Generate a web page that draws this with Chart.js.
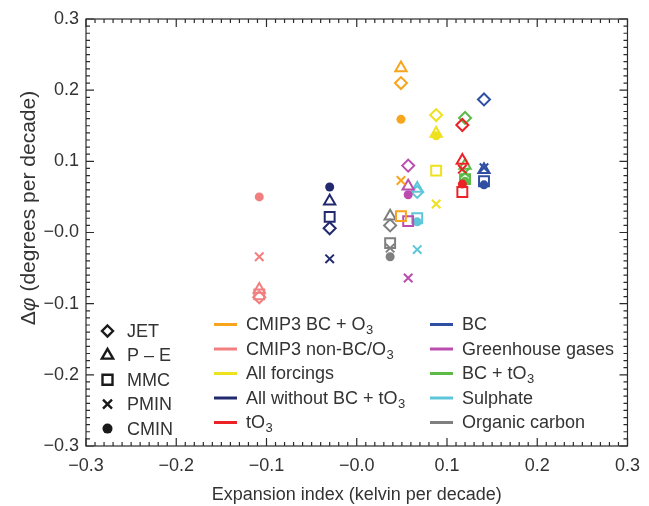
<!DOCTYPE html>
<html><head><meta charset="utf-8">
<script src="https://cdn.jsdelivr.net/npm/chart.js@4"></script>
<style>html,body{margin:0;padding:0;background:#fff}</style>
</head><body>
<canvas id="c" width="649" height="506"></canvas>
<script>
// ---- data ----
const indicators = ['JET', 'P – E', 'MMC', 'PMIN', 'CMIN'];
const forcings = ['CMIP3 BC + O3', 'CMIP3 non-BC/O3', 'All forcings', 'All without BC + tO3', 'tO3',
                  'BC', 'Greenhouse gases', 'BC + tO3', 'Sulphate', 'Organic carbon'];
const colors = ['#F8A41C', '#F17F7F', '#EEE11E', '#22296F', '#EC2227',
                '#2F4FA2', '#BA4DAD', '#5CBA47', '#5FC6DA', '#7F7F7F'];
// expansion index (kelvin per decade) per forcing
const expansionIndex = [0.049, -0.108, 0.088, -0.030, 0.117, 0.141, 0.057, 0.120, 0.067, 0.037];
// Δφ (degrees per decade) for JET, P–E, MMC, PMIN, CMIN
const cmip3BcO3     = [0.210, 0.231, 0.023, 0.073, 0.159];
const cmip3NonBcO3  = [-0.091, -0.080, -0.087, -0.034, 0.050];
const allForcings   = [0.165, 0.139, 0.087, 0.040, 0.136];
const allWithoutBc  = [0.006, 0.044, 0.022, -0.037, 0.064];
const tO3           = [0.151, 0.101, 0.057, 0.089, 0.068];
const bc            = [0.187, 0.088, 0.072, 0.091, 0.067];
const ghg           = [0.094, 0.065, 0.016, -0.064, 0.053];
const bcTO3         = [0.161, 0.094, 0.075, 0.084, 0.072];
const sulphate      = [0.057, 0.062, 0.020, -0.024, 0.015];
const organicCarbon = [0.010, 0.023, -0.015, -0.022, -0.034];
const seriesValues = [cmip3BcO3, cmip3NonBcO3, allForcings, allWithoutBc, tO3,
                      bc, ghg, bcTO3, sulphate, organicCarbon];
const axisTicks = [-0.3, -0.2, -0.1, 0.0, 0.1, 0.2, 0.3];

// ---- styles ----
const markerStyles = ['rectRot', 'triangle', 'rect', 'crossRot', 'circle'];
const markerRadius = [6, 6.5, 7, 6, 4.5];
const FONT = '"Liberation Sans", Arial, Helvetica, sans-serif';
const TEXT = '#333333';

function fmtTick(v) {
  const r = Math.round(v * 10) / 10;
  if (Math.abs(r) < 1e-9) return '\u22120.0';
  return (r < 0 ? '\u2212' : '') + Math.abs(r).toFixed(1);
}

const datasets = forcings.map((name, i) => ({
  label: name,
  data: seriesValues[i].map(v => ({x: expansionIndex[i], y: v})),
  showLine: false,
  borderColor: colors[i],
  pointBorderColor: colors[i],
  pointBackgroundColor: markerStyles.map(s => s === 'circle' ? colors[i] : 'rgba(0,0,0,0)'),
  pointStyle: markerStyles,
  pointRadius: markerRadius,
  pointBorderWidth: markerStyles.map(s => s === 'circle' ? 0 : 2),
  pointHoverRadius: markerRadius
}));

function drawRich(ctx, label, x, y, size) {
  // subscript the "3" that follows "O"
  const parts = label.split(/(?<=O)3/);
  let cx = x;
  parts.forEach((p, k) => {
    ctx.font = size + 'px ' + FONT;
    ctx.fillText(p, cx, y);
    cx += ctx.measureText(p).width;
    if (k < parts.length - 1) {
      ctx.font = Math.round(size * 0.7) + 'px ' + FONT;
      ctx.fillText('3', cx + 0.5, y + size * 0.3);
      cx += ctx.measureText('3').width + 0.5;
    }
  });
}

function drawMarker(ctx, style, x, y) {
  ctx.beginPath();
  if (style === 'rectRot') {
    const r = 5.5;
    ctx.moveTo(x, y - r); ctx.lineTo(x + r, y); ctx.lineTo(x, y + r); ctx.lineTo(x - r, y); ctx.closePath();
    ctx.stroke();
  } else if (style === 'triangle') {
    const r = 6.5;
    ctx.moveTo(x, y - r); ctx.lineTo(x + r * 0.866, y + r * 0.5); ctx.lineTo(x - r * 0.866, y + r * 0.5); ctx.closePath();
    ctx.stroke();
  } else if (style === 'rect') {
    ctx.rect(x - 5, y - 5, 10, 10); ctx.stroke();
  } else if (style === 'crossRot') {
    const r = 4.5;
    ctx.moveTo(x - r, y - r); ctx.lineTo(x + r, y + r); ctx.moveTo(x + r, y - r); ctx.lineTo(x - r, y + r);
    ctx.stroke();
  } else {
    ctx.arc(x, y, 5, 0, Math.PI * 2); ctx.fill();
  }
}

const framePlugin = {
  id: 'frame',
  beforeDatasetsDraw(chart) {
    const {ctx, chartArea: {left, right, top, bottom}, scales: {x, y}} = chart;
    ctx.save();
    ctx.strokeStyle = '#2b2b2b';
    ctx.lineWidth = 1.2;
    ctx.strokeRect(left, top, right - left, bottom - top);
    ctx.beginPath();
    for (let i = -30; i <= 30; i++) {
      const v = i / 100;
      const len = (i % 10 === 0) ? 8 : 4;
      const px = x.getPixelForValue(v);
      ctx.moveTo(px, bottom); ctx.lineTo(px, bottom - len);
      ctx.moveTo(px, top); ctx.lineTo(px, top + len);
      const py = y.getPixelForValue(v);
      ctx.moveTo(left, py); ctx.lineTo(left + len, py);
      ctx.moveTo(right, py); ctx.lineTo(right - len, py);
    }
    ctx.stroke();
    ctx.restore();
  },
  afterDatasetsDraw(chart) {
    const {ctx} = chart;
    ctx.save();
    ctx.textBaseline = 'middle';
    ctx.fillStyle = TEXT;
    // y title
    ctx.save();
    ctx.translate(29, 208);
    ctx.rotate(-Math.PI / 2);
    const size = 21;
    const p1 = '\u0394', p2 = '\u03C6', p3 = ' (degrees per decade)';
    ctx.font = size + 'px ' + FONT;
    const w1 = ctx.measureText(p1).width, w3 = ctx.measureText(p3).width;
    ctx.font = 'italic ' + size + 'px ' + FONT;
    const w2 = ctx.measureText(p2).width;
    let sx = -(w1 + w2 + w3) / 2;
    ctx.font = size + 'px ' + FONT; ctx.fillText(p1, sx, 0); sx += w1;
    ctx.font = 'italic ' + size + 'px ' + FONT; ctx.fillText(p2, sx, 0); sx += w2;
    ctx.font = size + 'px ' + FONT; ctx.fillText(p3, sx, 0);
    ctx.restore();

    // marker legend
    ctx.strokeStyle = '#1a1a1a';
    ctx.fillStyle = '#1a1a1a';
    ctx.lineWidth = 2.4;
    indicators.forEach((lab, i) => {
      const yy = 331 + 24.4 * i;
      drawMarker(ctx, markerStyles[i], 107.5, yy);
      ctx.fillStyle = TEXT;
      ctx.font = '18px ' + FONT;
      ctx.fillText(lab, 127, yy + 1);
      ctx.fillStyle = '#1a1a1a';
    });
    // colour legend
    forcings.forEach((lab, i) => {
      const col = Math.floor(i / 5), row = i % 5;
      const lx = col === 0 ? 214 : 430;
      const tx = col === 0 ? 246 : 462;
      const yy = 324.5 + 24.5 * row;
      ctx.strokeStyle = colors[i];
      ctx.lineWidth = 3;
      ctx.beginPath(); ctx.moveTo(lx, yy); ctx.lineTo(lx + 23, yy); ctx.stroke();
      ctx.fillStyle = TEXT;
      drawRich(ctx, lab, tx, yy + 1, 18);
    });
    ctx.restore();
  }
};

new Chart(document.getElementById('c'), {
  type: 'scatter',
  data: {datasets},
  options: {
    responsive: false,
    animation: false,
    layout: {padding: {left: 0, right: 18, top: 19, bottom: 0}},
    plugins: {legend: {display: false}, tooltip: {enabled: false}},
    scales: {
      x: {
        type: 'linear', min: -0.3, max: 0.3,
        afterFit(s) { s.height = 60; },
        afterBuildTicks(s) { s.ticks = axisTicks.map(v => ({value: v})); },
        grid: {display: false, drawTicks: false},
        border: {display: false},
        ticks: {callback: fmtTick, padding: 9, color: TEXT, font: {family: FONT, size: 18}, maxRotation: 0},
        title: {display: true, text: 'Expansion index (kelvin per decade)', color: TEXT,
                font: {family: FONT, size: 18}, padding: {top: 0, bottom: 0}}
      },
      y: {
        type: 'linear', min: -0.3, max: 0.3,
        afterFit(s) { s.width = 86; },
        afterBuildTicks(s) { s.ticks = axisTicks.map(v => ({value: v})); },
        grid: {display: false, drawTicks: false},
        border: {display: false},
        ticks: {callback: fmtTick, padding: 7, color: TEXT, font: {family: FONT, size: 18}}
      }
    }
  },
  plugins: [framePlugin]
});
</script>
</body></html>
